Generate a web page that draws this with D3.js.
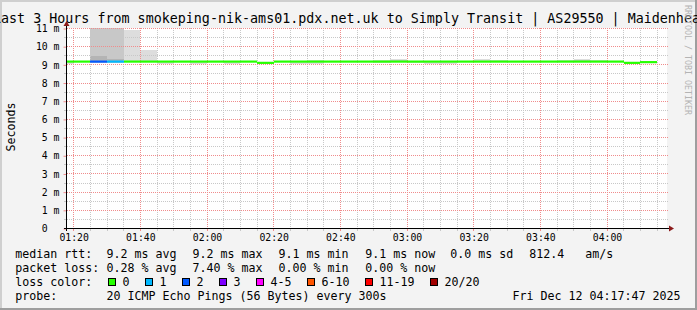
<!DOCTYPE html>
<html>
<head>
<meta charset="utf-8">
<script src="https://cdn.jsdelivr.net/npm/d3@7"></script>
<style>
html, body { margin: 0; padding: 0; background: #f3f3f3; }
svg { display: block; font-family: "DejaVu Sans Mono", monospace; }
</style>
</head>
<body>
<svg id="chart" width="697" height="310"></svg>
<script>
// 5 minute steps, start of each step
var stepStarts = ["01:15","01:20","01:25","01:30","01:35","01:40","01:45","01:50","01:55",
                  "02:00","02:05","02:10","02:15","02:20","02:25","02:30","02:35","02:40",
                  "02:45","02:50","02:55","03:00","03:05","03:10","03:15","03:20","03:25",
                  "03:30","03:35","03:40","03:45","03:50","03:55","04:00","04:05","04:10"];
var lastStepEnd = "04:15";

// median rtt in ms
var medianMs = [9.18,9.18,9.18,9.18,9.18,9.18,9.18,9.18,9.18,9.18,9.18,9.18,9.11,9.18,9.18,9.18,9.18,9.18,
                9.18,9.18,9.18,9.18,9.18,9.18,9.18,9.18,9.18,9.18,9.18,9.18,9.18,9.18,9.18,9.18,9.11,9.15];
// lost pings out of 20
var lostPings = [0,0,2,1,0,0,0,0,0,0,0,0,0,0,0,0,0,0,0,0,0,0,0,0,0,0,0,0,0,0,0,0,0,0,0,0];

// smoke: outer band (all pings)
var smokeLo = [9.06,9.14,9.12,9.12,9.15,9.15,9.06,9.14,9.06,9.14,9.06,9.14,9.04,9.14,9.06,9.06,9.14,9.14,
               9.14,9.12,9.14,9.08,9.06,9.06,9.14,9.15,9.15,9.14,9.14,9.14,9.15,9.15,9.15,9.14,9.06,9.10];
var smokeHi = [9.20,9.20,12.0,12.0,10.92,9.80,9.20,9.20,9.20,9.20,9.20,9.20,9.14,9.20,9.20,9.28,9.20,9.20,
               9.20,9.28,9.30,9.20,9.20,9.20,9.20,9.35,9.28,9.20,9.20,9.20,9.28,9.30,9.28,9.20,9.14,9.18];
// denser middle band
var denseLo = [null,null,9.12,9.12,null,null,null,null,null,null,null,null,null,null,null,null,null,null,
               null,null,9.15,null,null,null,null,null,null,null,null,null,null,9.15,null,null,null,null];
var denseHi = [null,null,12.0,12.0,null,null,null,null,null,null,null,null,null,null,null,null,null,null,
               null,null,9.26,null,null,null,null,null,null,null,null,null,null,9.26,null,null,null,null];
// core band
var coreLo = [null,null,9.14,9.14,null,null,null,null,null,null,null,null,null,null,null,null,null,null,
              null,null,null,null,null,null,null,null,null,null,null,null,null,null,null,null,null,null];
var coreHi = [null,null,9.47,9.33,null,null,null,null,null,null,null,null,null,null,null,null,null,null,
              null,null,null,null,null,null,null,null,null,null,null,null,null,null,null,null,null,null];

var yMajorTicks = [0,1,2,3,4,5,6,7,8,9,10,11];
var yTickLabels = ["0\u00a0\u00a0","1 m","2 m","3 m","4 m","5 m","6 m","7 m","8 m","9 m","10 m","11 m"];
var xMajorTicks = ["01:20","01:40","02:00","02:20","02:40","03:00","03:20","03:40","04:00"];

var lossBuckets = ["0","1","2","3","4-5","6-10","11-19","20/20"];
var lossBucketMax = [0,1,2,3,5,10,19,20];
var lossColors = ["#26ff00","#00b8ff","#0059ff","#7e00ff","#ff00ff","#ff5500","#ff0000","#a10000"];

var titleText = "Last 3 Hours from smokeping-nik-ams01.pdx.net.uk to Simply Transit | AS29550 | Maidenhead";
var rttLabel = "median rtt:";
var rttItems = ["9.2 ms avg","9.2 ms max","9.1 ms min","9.1 ms now","0.0 ms sd","812.4","am/s"];
var lossLabel = "packet loss:";
var lossItems = ["0.28 % avg","7.40 % max","0.00 % min","0.00 % now"];
var colorLabel = "loss color:";
var probeLabel = "probe:";
var probeText = "20 ICMP Echo Pings (56 Bytes) every 300s";
var stampText = "Fri Dec 12 04:17:47 2025";

// layout
var W = 697, H = 310;
var plot = { left: 67, right: 667, top: 28, bottom: 228 };
var itemX = [106.6, 192.6, 278.6, 365.3, 450.3, 529.3, 585.3];
var boxX = [108, 145, 182, 219, 256, 307, 365, 430];
var rowY = [258, 272, 286, 300];

var parseT = d3.timeParse("%H:%M");
var parseS = d3.timeParse("%H:%M:%S");

var svg = d3.select("#chart");

// background and 3d frame
svg.append("rect").attr("width", W).attr("height", H).attr("fill", "#f3f3f3");
svg.append("rect").attr("x", 0).attr("y", 0).attr("width", W).attr("height", 2).attr("fill", "#cfcfcf");
svg.append("rect").attr("x", 0).attr("y", 0).attr("width", 2).attr("height", H).attr("fill", "#cfcfcf");
svg.append("rect").attr("x", 0).attr("y", H - 2).attr("width", W).attr("height", 2).attr("fill", "#9e9e9e");
svg.append("rect").attr("x", W - 2).attr("y", 0).attr("width", 2).attr("height", H).attr("fill", "#9e9e9e");

// canvas
svg.append("rect")
    .attr("x", plot.left).attr("y", plot.top)
    .attr("width", plot.right - plot.left).attr("height", plot.bottom - plot.top)
    .attr("fill", "#ffffff");

var x = d3.scaleTime()
    .domain([parseS("01:18:00"), parseS("04:18:00")])
    .range([plot.left, plot.right]);
var y = d3.scaleLinear().domain([0, 11]).range([plot.bottom + 0.5, plot.top + 0.5]);

svg.append("clipPath").attr("id", "plotclip")
    .append("rect")
    .attr("x", plot.left).attr("y", plot.top)
    .attr("width", plot.right - plot.left).attr("height", plot.bottom - plot.top);

var steps = stepStarts.map(function(s, i) {
    return {
        t0: parseT(s),
        t1: parseT(i + 1 < stepStarts.length ? stepStarts[i + 1] : lastStepEnd),
        median: medianMs[i],
        lost: lostPings[i],
        bands: [[smokeLo[i], smokeHi[i], "#dddddd"],
                [denseLo[i], denseHi[i], "#c8c8c8"],
                [coreLo[i], coreHi[i], "#b4b4b4"]]
    };
});

// smoke
var smoke = svg.append("g").attr("clip-path", "url(#plotclip)");
[0, 1, 2].forEach(function(k) {
    smoke.selectAll(".band" + k)
        .data(steps.filter(function(d) { return d.bands[k][0] != null; }))
        .enter().append("rect")
        .attr("x", function(d) { return Math.round(x(d.t0)); })
        .attr("width", function(d) { return Math.round(x(d.t1)) - Math.round(x(d.t0)); })
        .attr("y", function(d) { return Math.round(y(d.bands[k][1])); })
        .attr("height", function(d) { return Math.round(y(d.bands[k][0])) - Math.round(y(d.bands[k][1])); })
        .attr("fill", function(d) { return d.bands[k][2]; });
});

// grid
var grid = svg.append("g");
var xMajor = xMajorTicks.map(parseT);
var xMinor = d3.timeMinute.every(5).range(parseS("01:18:00"), parseS("04:18:00"))
    .filter(function(t) { return xMajor.every(function(m) { return +m !== +t; }); });
var yMinor = d3.range(0.5, 11, 1);

function px(v) { return Math.floor(v) + 0.5; }

grid.selectAll(".vmin").data(xMinor).enter().append("line")
    .attr("x1", function(d) { return px(x(d)); }).attr("x2", function(d) { return px(x(d)); })
    .attr("y1", plot.top).attr("y2", plot.bottom)
    .attr("stroke", "#c8c8c8").attr("stroke-dasharray", "1,1");
grid.selectAll(".hmin").data(yMinor).enter().append("line")
    .attr("y1", function(d) { return px(y(d)); }).attr("y2", function(d) { return px(y(d)); })
    .attr("x1", plot.left).attr("x2", plot.right + 1)
    .attr("stroke", "#c8c8c8").attr("stroke-dasharray", "1,1");
grid.selectAll(".vmaj").data(xMajor).enter().append("line")
    .attr("x1", function(d) { return px(x(d)); }).attr("x2", function(d) { return px(x(d)); })
    .attr("y1", plot.top).attr("y2", plot.bottom)
    .attr("stroke", "#f08c8c").attr("stroke-dasharray", "1,1");
grid.selectAll(".hmaj").data(yMajorTicks.slice(1)).enter().append("line")
    .attr("y1", function(d) { return px(y(d)); }).attr("y2", function(d) { return px(y(d)); })
    .attr("x1", plot.left).attr("x2", plot.right + 1)
    .attr("stroke", "#f08c8c").attr("stroke-dasharray", "1,1");

// median line coloured by loss
function lossColor(n) {
    for (var i = 0; i < lossBucketMax.length; i++) {
        if (n <= lossBucketMax[i]) return lossColors[i];
    }
    return lossColors[lossColors.length - 1];
}
svg.append("g").attr("clip-path", "url(#plotclip)")
    .selectAll("line").data(steps).enter().append("line")
    .attr("x1", function(d) { return Math.round(x(d.t0)); })
    .attr("x2", function(d) { return Math.round(x(d.t1)); })
    .attr("y1", function(d) { return y(d.median); })
    .attr("y2", function(d) { return y(d.median); })
    .attr("stroke", function(d) { return lossColor(d.lost); })
    .attr("stroke-width", 2.2);

// x axis
var xAxis = svg.append("g")
    .attr("transform", "translate(0," + (plot.bottom + 0.5) + ")")
    .call(d3.axisBottom(x).tickValues(xMajor).tickFormat(d3.timeFormat("%H:%M")).tickSize(3).tickSizeOuter(0));
xAxis.select(".domain").remove();
xAxis.selectAll(".tick line").remove();
xAxis.selectAll(".tick text")
    .attr("y", 12.5).attr("dy", null)
    .attr("font-family", "DejaVu Sans Mono").attr("font-size", "9.8px").attr("fill", "#000");
svg.append("g").selectAll("line").data(xMajor).enter().append("line")
    .attr("x1", function(d) { return px(x(d)); }).attr("x2", function(d) { return px(x(d)); })
    .attr("y1", plot.bottom + 1).attr("y2", plot.bottom + 3)
    .attr("stroke", "#f08c8c");
svg.append("g").selectAll("line").data(xMinor).enter().append("line")
    .attr("x1", function(d) { return px(x(d)); }).attr("x2", function(d) { return px(x(d)); })
    .attr("y1", plot.bottom + 1).attr("y2", plot.bottom + 3)
    .attr("stroke", "#c8c8c8");

// y axis
var yAxis = svg.append("g")
    .attr("transform", "translate(" + (plot.left - 0.5) + ",0)")
    .call(d3.axisLeft(y).tickValues(yMajorTicks)
        .tickFormat(function(d, i) { return yTickLabels[i]; })
        .tickSize(3).tickPadding(4).tickSizeOuter(0));
yAxis.select(".domain").remove();
yAxis.selectAll(".tick line").attr("stroke", "#f08c8c");
yAxis.selectAll(".tick text")
    .attr("font-family", "DejaVu Sans Mono").attr("font-size", "9.8px").attr("fill", "#000");
svg.append("g").selectAll("line").data(yMinor).enter().append("line")
    .attr("y1", function(d) { return px(y(d)); }).attr("y2", function(d) { return px(y(d)); })
    .attr("x1", plot.left - 3).attr("x2", plot.left - 1)
    .attr("stroke", "#c8c8c8");

// axis lines and arrows
svg.append("line").attr("x1", plot.left - 3).attr("x2", plot.right + 3)
    .attr("y1", plot.bottom + 0.5).attr("y2", plot.bottom + 0.5).attr("stroke", "#000");
svg.append("line").attr("x1", plot.left - 0.5).attr("x2", plot.left - 0.5)
    .attr("y1", plot.bottom + 3).attr("y2", plot.top - 3).attr("stroke", "#000");
svg.append("path")
    .attr("d", "M" + (plot.right + 2) + "," + (plot.bottom - 2.5) + "L" + (plot.right + 7) + "," + (plot.bottom + 0.5) +
               "L" + (plot.right + 2) + "," + (plot.bottom + 3.5) + "Z")
    .attr("fill", "#8b1a1a");
svg.append("path")
    .attr("d", "M" + (plot.left - 3.5) + "," + (plot.top - 2) + "L" + (plot.left - 0.5) + "," + (plot.top - 7) +
               "L" + (plot.left + 2.5) + "," + (plot.top - 2) + "Z")
    .attr("fill", "#8b1a1a");

// title, axis label, watermark
svg.append("text").attr("x", -7).attr("y", 23)
    .attr("font-size", "13.35px").attr("fill", "#000").text(titleText);
svg.append("text")
    .attr("transform", "translate(15,127) rotate(-90)")
    .attr("text-anchor", "middle").attr("font-size", "11.6px").attr("fill", "#000")
    .text("Seconds");
svg.append("text")
    .attr("transform", "translate(684.5,5) rotate(90)")
    .attr("font-size", "8.3px").attr("fill", "#b4b4b4")
    .text("RRDTOOL / TOBI OETIKER");

// legend
var legend = svg.append("g").attr("font-size", "11.63px").attr("fill", "#000")
    .style("white-space", "pre");
function legendText(xp, yp, s) {
    legend.append("text").attr("x", xp).attr("y", yp).text(s);
}
legendText(15.3, rowY[0], rttLabel);
rttItems.forEach(function(s, i) { legendText(itemX[i], rowY[0], s); });
legendText(15.3, rowY[1], lossLabel);
lossItems.forEach(function(s, i) { legendText(itemX[i], rowY[1], s); });
legendText(15.3, rowY[2], colorLabel);
lossBuckets.forEach(function(s, i) {
    legend.append("rect")
        .attr("x", boxX[i] + 0.5).attr("y", rowY[2] - 7.5)
        .attr("width", 7).attr("height", 7)
        .attr("fill", lossColors[i]).attr("stroke", "#000");
    legendText(boxX[i] + 14.5, rowY[2], s);
});
legendText(15.3, rowY[3], probeLabel);
legendText(itemX[0], rowY[3], probeText);
legendText(512.6, rowY[3], stampText);
</script>
</body>
</html>
